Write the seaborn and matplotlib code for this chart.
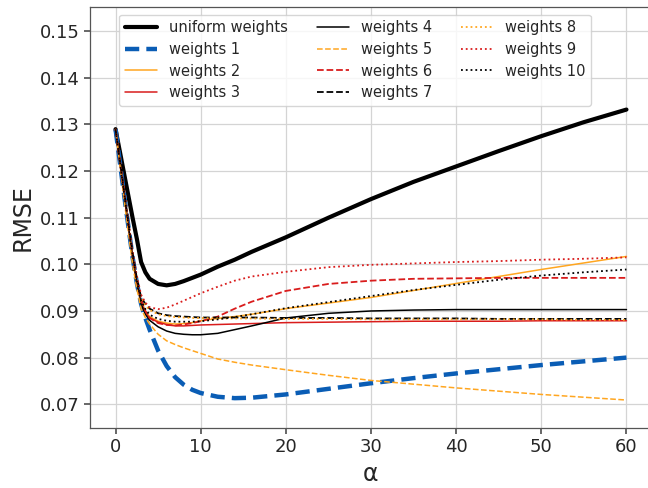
import numpy as np
import pandas as pd
import matplotlib
matplotlib.use("Agg")
import matplotlib.pyplot as plt
import seaborn as sns

alpha = [0, 1, 2, 2.5, 3, 3.5, 4, 5, 6, 7, 8, 9, 10, 12, 14, 16, 20, 25, 30, 35, 40, 45, 50, 55, 60]

uniform = [0.129, 0.1195, 0.1100, 0.1055, 0.1005, 0.0983, 0.0969, 0.0958, 0.0955, 0.0958, 0.0964, 0.0971, 0.0978,
           0.0995, 0.1010, 0.1027, 0.1058, 0.1100, 0.1140, 0.1177, 0.1210, 0.1243, 0.1275, 0.1305, 0.1332]
w1 = [0.129, 0.1150, 0.1015, 0.0960, 0.0915, 0.0885, 0.0860, 0.0815, 0.0782, 0.0758, 0.0742, 0.0731, 0.0724,
      0.0716, 0.0713, 0.0714, 0.0721, 0.0733, 0.0745, 0.0756, 0.0766, 0.0775, 0.0784, 0.0792, 0.0800]
w2 = [0.129, 0.1152, 0.1018, 0.0962, 0.0920, 0.0900, 0.0888, 0.0878, 0.0874, 0.0872, 0.0873, 0.0875, 0.0879,
      0.0884, 0.0888, 0.0893, 0.0905, 0.0917, 0.0929, 0.0944, 0.0959, 0.0974, 0.0989, 0.1003, 0.1017]
w3 = [0.129, 0.1150, 0.1018, 0.0961, 0.0918, 0.0897, 0.0885, 0.0876, 0.0871, 0.0868, 0.0868, 0.0869, 0.0870,
      0.0871, 0.0872, 0.0873, 0.0875, 0.0876, 0.0877, 0.0878, 0.0878, 0.0878, 0.0879, 0.0879, 0.0879]
w4 = [0.129, 0.1150, 0.1015, 0.0960, 0.0915, 0.0893, 0.0880, 0.0866, 0.0857, 0.0852, 0.0850, 0.0849, 0.0849,
      0.0852, 0.0860, 0.0868, 0.0885, 0.0895, 0.0900, 0.0902, 0.0903, 0.0903, 0.0903, 0.0903, 0.0903]
w5 = [0.129, 0.1140, 0.1000, 0.0948, 0.0905, 0.0886, 0.0872, 0.0850, 0.0836, 0.0828, 0.0821, 0.0815, 0.0809,
      0.0797, 0.0790, 0.0784, 0.0774, 0.0762, 0.0751, 0.0743, 0.0735, 0.0728, 0.0721, 0.0715, 0.0709]
w6 = [0.129, 0.1155, 0.1020, 0.0965, 0.0925, 0.0900, 0.0885, 0.0874, 0.0870, 0.0869, 0.0871, 0.0874, 0.0878,
      0.0888, 0.0905, 0.0920, 0.0943, 0.0958, 0.0965, 0.0969, 0.0970, 0.0971, 0.0971, 0.0971, 0.0971]
w7 = [0.129, 0.1158, 0.1025, 0.0970, 0.0930, 0.0915, 0.0905, 0.0895, 0.0891, 0.0889, 0.0888, 0.0887, 0.0886,
      0.0886, 0.0886, 0.0886, 0.0885, 0.0885, 0.0884, 0.0884, 0.0884, 0.0883, 0.0883, 0.0883, 0.0883]
w8 = [0.129, 0.1156, 0.1022, 0.0968, 0.0928, 0.0912, 0.0902, 0.0893, 0.0889, 0.0887, 0.0886, 0.0885, 0.0885,
      0.0884, 0.0884, 0.0884, 0.0883, 0.0883, 0.0882, 0.0882, 0.0882, 0.0882, 0.0882, 0.0881, 0.0881]
w9 = [0.129, 0.1160, 0.1028, 0.0975, 0.0935, 0.0918, 0.0908, 0.0904, 0.0907, 0.0914, 0.0922, 0.0930, 0.0938,
      0.0952, 0.0965, 0.0974, 0.0984, 0.0994, 0.0999, 0.1002, 0.1005, 0.1007, 0.1010, 0.1012, 0.1015]
w10 = [0.129, 0.1154, 0.1020, 0.0965, 0.0922, 0.0904, 0.0892, 0.0883, 0.0879, 0.0877, 0.0877, 0.0877, 0.0878,
       0.0882, 0.0887, 0.0893, 0.0906, 0.0919, 0.0932, 0.0945, 0.0956, 0.0967, 0.0976, 0.0983, 0.0989]

labels = ["uniform weights", "weights 1", "weights 2", "weights 3", "weights 4", "weights 5",
          "weights 6", "weights 7", "weights 8", "weights 9", "weights 10"]
series = [uniform, w1, w2, w3, w4, w5, w6, w7, w8, w9, w10]

BLACK = "#000000"
BLUE = "#0a5db5"
ORANGE = "#ffa620"
RED = "#d91c1c"
colors = [BLACK, BLUE, ORANGE, RED, BLACK, ORANGE, RED, BLACK, ORANGE, RED, BLACK]
styles = ["-", (0, (3.2, 1.6)), "-", "-", "-", "--", "--", "--", ":", ":", ":"]
widths = [3.0, 3.2, 1.1, 1.1, 1.1, 1.1, 1.3, 1.3, 1.3, 1.3, 1.3]

sns.set_theme(style="ticks", rc={"axes.grid": True, "grid.color": "#d4d4d4", "grid.linewidth": 0.9,
                                 "axes.edgecolor": "#555555", "axes.linewidth": 0.9})
plt.rcParams["font.family"] = ["DejaVu Sans"]

fig = plt.figure(figsize=(6.48, 4.88), dpi=100)
ax = fig.add_axes([90 / 648, 1 - 428 / 488, 562 / 648, 421 / 488])

for lab, ys, c, ls, lw in zip(labels, series, colors, styles, widths):
    df = pd.DataFrame({"alpha": alpha, "rmse": ys})
    sns.lineplot(data=df, x="alpha", y="rmse", ax=ax, color=c, linestyle=ls, linewidth=lw, label=lab)

ax.set_xlim(-3, 63)
ax.set_ylim(0.0649, 0.1552)
ax.set_xticks([0, 10, 20, 30, 40, 50, 60])
ax.set_yticks([0.07, 0.08, 0.09, 0.10, 0.11, 0.12, 0.13, 0.14, 0.15])
ax.set_yticklabels(["0.07", "0.08", "0.09", "0.10", "0.11", "0.12", "0.13", "0.14", "0.15"])
ax.tick_params(axis="both", labelsize=13, length=4, color="#555555")
ax.set_xlabel("α", fontsize=17)
ax.set_ylabel("RMSE", fontsize=17)

leg = ax.legend(ncol=3, loc="upper left", bbox_to_anchor=(0.052, 0.982), borderaxespad=0,
                fontsize=10.5, handlelength=2.2, frameon=True, labelspacing=0.45)
leg.get_frame().set_edgecolor("#cccccc")

fig.savefig("out.png", dpi=100)
